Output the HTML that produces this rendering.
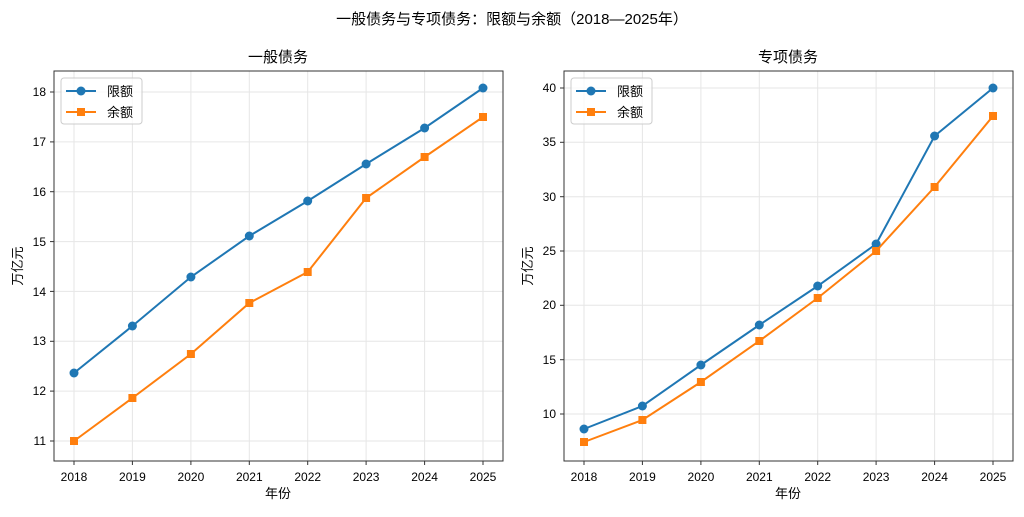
<!DOCTYPE html>
<html><head><meta charset="utf-8"><style>
body{margin:0;background:#fff;}
svg text{font-family:"Liberation Sans","Noto Sans CJK SC",sans-serif;fill:#000;}
</style></head><body>
<svg width="1024" height="512" viewBox="0 0 1024 512" xmlns="http://www.w3.org/2000/svg">
<text x="512" y="24" font-size="15" text-anchor="middle">一般债务与专项债务：限额与余额（2018—2025年）</text>
<!-- LEFT -->
<g stroke="#e6e6e6" stroke-width="1">
<line x1="74" y1="71" x2="74" y2="461"/><line x1="132.4" y1="71" x2="132.4" y2="461"/><line x1="190.9" y1="71" x2="190.9" y2="461"/><line x1="249.3" y1="71" x2="249.3" y2="461"/><line x1="307.7" y1="71" x2="307.7" y2="461"/><line x1="366.1" y1="71" x2="366.1" y2="461"/><line x1="424.6" y1="71" x2="424.6" y2="461"/><line x1="483" y1="71" x2="483" y2="461"/>
<line x1="54" y1="92" x2="503" y2="92"/><line x1="54" y1="141.9" x2="503" y2="141.9"/><line x1="54" y1="191.7" x2="503" y2="191.7"/><line x1="54" y1="241.6" x2="503" y2="241.6"/><line x1="54" y1="291.4" x2="503" y2="291.4"/><line x1="54" y1="341.3" x2="503" y2="341.3"/><line x1="54" y1="391.1" x2="503" y2="391.1"/><line x1="54" y1="441" x2="503" y2="441"/>
</g>
<rect x="54" y="71" width="449" height="390" fill="none" stroke="#333" stroke-width="1"/>
<g stroke="#333"><line x1="74" y1="461" x2="74" y2="465"/><line x1="132.4" y1="461" x2="132.4" y2="465"/><line x1="190.9" y1="461" x2="190.9" y2="465"/><line x1="249.3" y1="461" x2="249.3" y2="465"/><line x1="307.7" y1="461" x2="307.7" y2="465"/><line x1="366.1" y1="461" x2="366.1" y2="465"/><line x1="424.6" y1="461" x2="424.6" y2="465"/><line x1="483" y1="461" x2="483" y2="465"/>
<line x1="50" y1="92" x2="54" y2="92"/><line x1="50" y1="141.9" x2="54" y2="141.9"/><line x1="50" y1="191.7" x2="54" y2="191.7"/><line x1="50" y1="241.6" x2="54" y2="241.6"/><line x1="50" y1="291.4" x2="54" y2="291.4"/><line x1="50" y1="341.3" x2="54" y2="341.3"/><line x1="50" y1="391.1" x2="54" y2="391.1"/><line x1="50" y1="441" x2="54" y2="441"/></g>
<g font-size="12" text-anchor="middle"><text x="74" y="481">2018</text><text x="132.4" y="481">2019</text><text x="190.9" y="481">2020</text><text x="249.3" y="481">2021</text><text x="307.7" y="481">2022</text><text x="366.1" y="481">2023</text><text x="424.6" y="481">2024</text><text x="483" y="481">2025</text></g>
<g font-size="12" text-anchor="end"><text x="46" y="96">18</text><text x="46" y="146">17</text><text x="46" y="196">16</text><text x="46" y="246">15</text><text x="46" y="296">14</text><text x="46" y="345">13</text><text x="46" y="395">12</text><text x="46" y="445">11</text></g>
<text x="278" y="498" font-size="13" text-anchor="middle">年份</text>
<text x="22" y="266" font-size="13" text-anchor="middle" transform="rotate(-90 22 266)">万亿元</text>
<text x="278" y="62" font-size="15" text-anchor="middle">一般债务</text>
<polyline fill="none" stroke="#1f77b4" stroke-width="2" points="74,373 132.4,326 190.9,277 249.3,236 307.7,201 366.1,164 424.6,128 483,88"/>
<g fill="#1f77b4"><circle cx="74" cy="373" r="4.5"/><circle cx="132.4" cy="326" r="4.5"/><circle cx="190.9" cy="277" r="4.5"/><circle cx="249.3" cy="236" r="4.5"/><circle cx="307.7" cy="201" r="4.5"/><circle cx="366.1" cy="164" r="4.5"/><circle cx="424.6" cy="128" r="4.5"/><circle cx="483" cy="88" r="4.5"/></g>
<polyline fill="none" stroke="#ff7f0e" stroke-width="2" points="74,441 132.4,398 190.9,354 249.3,303 307.7,272 366.1,198 424.6,157 483,117"/>
<g fill="#ff7f0e"><rect x="70" y="437" width="8" height="8"/><rect x="128.4" y="394" width="8" height="8"/><rect x="186.9" y="350" width="8" height="8"/><rect x="245.3" y="299" width="8" height="8"/><rect x="303.7" y="268" width="8" height="8"/><rect x="362.1" y="194" width="8" height="8"/><rect x="420.6" y="153" width="8" height="8"/><rect x="479" y="113" width="8" height="8"/></g>
<rect x="61" y="78" width="81" height="46" rx="3" fill="#fff" fill-opacity="0.8" stroke="#ccc"/>
<line x1="66" y1="91" x2="96" y2="91" stroke="#1f77b4" stroke-width="2"/><circle cx="81" cy="91" r="4.5" fill="#1f77b4"/>
<line x1="66" y1="112" x2="96" y2="112" stroke="#ff7f0e" stroke-width="2"/><rect x="77" y="108" width="8" height="8" fill="#ff7f0e"/>
<text x="107" y="96" font-size="13">限额</text><text x="107" y="117" font-size="13">余额</text>
<!-- RIGHT -->
<g stroke="#e6e6e6" stroke-width="1">
<line x1="584" y1="71" x2="584" y2="461"/><line x1="642.4" y1="71" x2="642.4" y2="461"/><line x1="700.9" y1="71" x2="700.9" y2="461"/><line x1="759.3" y1="71" x2="759.3" y2="461"/><line x1="817.7" y1="71" x2="817.7" y2="461"/><line x1="876.1" y1="71" x2="876.1" y2="461"/><line x1="934.6" y1="71" x2="934.6" y2="461"/><line x1="993" y1="71" x2="993" y2="461"/>
<line x1="564" y1="88" x2="1013" y2="88"/><line x1="564" y1="142.3" x2="1013" y2="142.3"/><line x1="564" y1="196.7" x2="1013" y2="196.7"/><line x1="564" y1="251" x2="1013" y2="251"/><line x1="564" y1="305.3" x2="1013" y2="305.3"/><line x1="564" y1="359.7" x2="1013" y2="359.7"/><line x1="564" y1="414" x2="1013" y2="414"/>
</g>
<rect x="564" y="71" width="449" height="390" fill="none" stroke="#333" stroke-width="1"/>
<g stroke="#333"><line x1="584" y1="461" x2="584" y2="465"/><line x1="642.4" y1="461" x2="642.4" y2="465"/><line x1="700.9" y1="461" x2="700.9" y2="465"/><line x1="759.3" y1="461" x2="759.3" y2="465"/><line x1="817.7" y1="461" x2="817.7" y2="465"/><line x1="876.1" y1="461" x2="876.1" y2="465"/><line x1="934.6" y1="461" x2="934.6" y2="465"/><line x1="993" y1="461" x2="993" y2="465"/>
<line x1="560" y1="88" x2="564" y2="88"/><line x1="560" y1="142.3" x2="564" y2="142.3"/><line x1="560" y1="196.7" x2="564" y2="196.7"/><line x1="560" y1="251" x2="564" y2="251"/><line x1="560" y1="305.3" x2="564" y2="305.3"/><line x1="560" y1="359.7" x2="564" y2="359.7"/><line x1="560" y1="414" x2="564" y2="414"/></g>
<g font-size="12" text-anchor="middle"><text x="584" y="481">2018</text><text x="642.4" y="481">2019</text><text x="700.9" y="481">2020</text><text x="759.3" y="481">2021</text><text x="817.7" y="481">2022</text><text x="876.1" y="481">2023</text><text x="934.6" y="481">2024</text><text x="993" y="481">2025</text></g>
<g font-size="12" text-anchor="end"><text x="556" y="92">40</text><text x="556" y="146">35</text><text x="556" y="201">30</text><text x="556" y="255">25</text><text x="556" y="309">20</text><text x="556" y="364">15</text><text x="556" y="418">10</text></g>
<text x="788" y="498" font-size="13" text-anchor="middle">年份</text>
<text x="532" y="266" font-size="13" text-anchor="middle" transform="rotate(-90 532 266)">万亿元</text>
<text x="788" y="62" font-size="15" text-anchor="middle">专项债务</text>
<polyline fill="none" stroke="#1f77b4" stroke-width="2" points="584,429 642.4,406 700.9,365 759.3,325 817.7,286 876.1,244 934.6,136 993,88"/>
<g fill="#1f77b4"><circle cx="584" cy="429" r="4.5"/><circle cx="642.4" cy="406" r="4.5"/><circle cx="700.9" cy="365" r="4.5"/><circle cx="759.3" cy="325" r="4.5"/><circle cx="817.7" cy="286" r="4.5"/><circle cx="876.1" cy="244" r="4.5"/><circle cx="934.6" cy="136" r="4.5"/><circle cx="993" cy="88" r="4.5"/></g>
<polyline fill="none" stroke="#ff7f0e" stroke-width="2" points="584,442 642.4,420 700.9,382 759.3,341 817.7,298 876.1,251 934.6,187 993,116"/>
<g fill="#ff7f0e"><rect x="580" y="438" width="8" height="8"/><rect x="638.4" y="416" width="8" height="8"/><rect x="696.9" y="378" width="8" height="8"/><rect x="755.3" y="337" width="8" height="8"/><rect x="813.7" y="294" width="8" height="8"/><rect x="872.1" y="247" width="8" height="8"/><rect x="930.6" y="183" width="8" height="8"/><rect x="989" y="112" width="8" height="8"/></g>
<rect x="571" y="78" width="81" height="46" rx="3" fill="#fff" fill-opacity="0.8" stroke="#ccc"/>
<line x1="576" y1="91" x2="606" y2="91" stroke="#1f77b4" stroke-width="2"/><circle cx="591" cy="91" r="4.5" fill="#1f77b4"/>
<line x1="576" y1="112" x2="606" y2="112" stroke="#ff7f0e" stroke-width="2"/><rect x="587" y="108" width="8" height="8" fill="#ff7f0e"/>
<text x="617" y="96" font-size="13">限额</text><text x="617" y="117" font-size="13">余额</text>
</svg>
</body></html>
